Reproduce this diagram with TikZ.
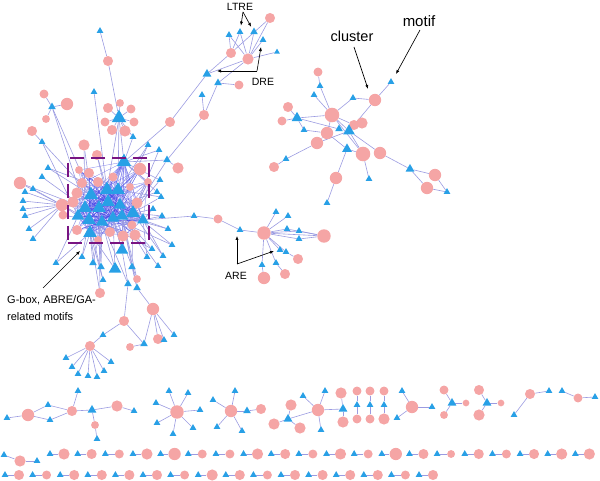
\documentclass[tikz,border=0pt]{standalone}
\usepackage{fontspec}
\setmainfont{Liberation Sans}
\usetikzlibrary{shapes.geometric,arrows.meta,backgrounds}
\definecolor{pinkc}{RGB}{245,165,165}
\definecolor{bluec}{RGB}{40,160,230}
\definecolor{edgec}{RGB}{155,155,225}
\definecolor{densec}{RGB}{70,70,230}
\definecolor{boxc}{RGB}{120,20,130}
\tikzset{
 pk/.style={circle, fill=pinkc, inner sep=0pt, minimum size={1.12*#1pt}},
 pk/.default=9,
 tri/.style={regular polygon, regular polygon sides=3, fill=bluec, inner sep=0pt, minimum size={1.12*#1pt}},
 tri/.default=7,
 ed/.style={draw=edgec, line width=0.6pt},
 ed2/.style={draw=densec, line width=0.35pt, draw opacity=0.65},
 ann/.style={draw=black, line width=0.65pt, -{Latex[length=4pt,width=3.2pt]}},
 lbl/.style={font=\fontsize{10.5}{12}\selectfont, inner sep=0pt}
}
\begin{document}
\begin{tikzpicture}[x=1pt,y=-1pt]
\useasboundingbox (0,0) rectangle (600,481);
% pink clusters
\foreach \nm/\xx/\yy/\sz in {
a1/270/18/9, a2/231/53/9, a3/248/59/10, a4/239/85/8, a5/204/115/9, a6/170/122/9,
b1/108/61/9, b2/44/94/8, b3/67/104/11, b4/46/119/7, b5/120/103/7, b6/108/108/9, b7/131/109/8, b8/105/122/8, b9/134/122/8, b10/112/130/9, b11/125/131/10, b12/32/131/9, b13/84/145/10, b14/97/155/9, b15/178/168/10,
d1/79/170/7, d2/89/173/9, d3/82/183/9, d4/98/182/9, d5/113/177/8, d6/140/169/11, d7/130/187/7, d8/77/193/10, d9/137/203/10, d10/73/202/10, d11/132/225/8, d12/135/235/10, d13/123/236/10, d14/110/232/9, d15/77/230/9, d16/98/240/7, d17/148/182/7,
L0/62/205/11, l1/20/183/11, l2/63/215/8,
f1/137/279/7, f2/100/293/9, f3/153/309/11, f4/124/321/9, f5/90/346/9, f6/130/347/7, f7/158/339/9,
h1/218/219/8, H/264/233/12, h2/324/236/12, h3/298/259/9, h4/285/274/9, h5/264/278/11,
q1/318/72/8, q4/288/107/9, q5/282/121/8, q7/332/115/13, q9/375/100/11, q12/327/133/11, q15/354/125/9, q16/362/123/10, q17/317/143/11, q19/363/154/13, q20/380/153/11, q22/274/167/9, q23/336/178/11, q27/435/175/11, q28/427/188/11,
ub1/28/415/11, ub2/72/411/9, ub3/117/406/10, ub4/95/425/7, vb/177/412/12, wb/231/411/11, wp/261/409/9, xp1/291/405/10, xp2/274/424/10, xp3/300/428/10, xh/318/410/11, xp4/341/393/10, xp5/343/422/10, yp1/357/391/8, yq1/357/419/8, yp2/370/391/8, yq2/370/419/8, yp3/384/391/8, yq3/384/419/10, zh/412/407/11, gp1/444/390/8, gp2/444/415/7, gp3/466/403/6, hp1/479/390/9, hp2/479/415/10, hp3/501/403/6, ip/530/394/9, jp/578/398/8, kp/20/461/10}
  \node[pk=\sz] (\nm) at (\xx,\yy) {};
% motifs
\foreach \nm/\xx/\yy/\sz in {
ta1/229/35/7, ta2/240/32/7, ta3/254/32/8, ta4/263/40/7, ta5/277/52/6, ta6/207/74/9, ta7/218/83/8, ta8/202/95/7,
tb1/100/31/7, TB/119/118/15, tb2/52/107/8, tb3/94/92/7, tb4/133/137/7, tb5/42/142/7, tb6/148/145/7, tb7/159/150/7, tb8/167/160/8,
c1/124/162/15, c2/91/195/15, c3/107/190/15, c4/118/190/14, c5/108/202/14, c6/99/208/14, c7/85/208/14, c8/120/205/13, c9/133/213/14, c10/89/220/14, c11/102/222/13, c12/113/218/13, c13/122/216/13, c14/78/216/13, c15/143/220/12, c16/90/233/14,
tl1/25/192/7, tl2/33/189/7, tl3/23/201/7, tl4/23/209/7, tl5/25/216/7, tl6/48/168/7, tl7/42/177/7, tl8/29/229/7, tl9/33/239/7,
tr1/160/180/7, tr2/161/197/7, tr3/153/209/7, tr4/162/216/7, tr5/168/229/7, tr6/172/245/7, tr7/152/249/7, tr8/157/192/7,
te1/56/263/7, te2/82/257/7, te3/93/263/8, te4/101/267/8, TE5/115/269/13, TE6/122/250/13, te7/132/267/8, te9/147/257/7, te10/163/256/7, te12/158/266/7, te13/103/280/7, te14/128/284/8, te15/137/288/8,
tg1/144/344/8, tg2/164/340/7, tg3/174/335/7, tg4/103/335/7,
tf1/66/358/7, tf2/72/367/7, tf3/78/374/7, tf4/88/376/7, tf5/97/377/7, tf6/104/371/7, tf7/111/362/7,
th1/194/216/7, th2/240/230/7, th3/276/212/7, th4/288/216/7, th5/287/229/7, th6/299/231/7, th7/299/239/7, th8/280/250/7, th9/286/252/7, th10/276/263/7, th11/262/265/7,
q2/320/86/7, q3/314/95/7, Q6/297/118/11, q8/353/98/7, q10/391/82/7, q11/304/130/7, q13/339/129/8, Q14/349/131/12, Q18/347/149/10, q21/286/159/7, q24/327/203/7, q25/369/179/7, q26/410/169/9, q29/447/192/7,
ua1/7/418/7, ua2/48/405/7, ua3/50/420/7, ua4/78/391/7, UA5/92/410/9, ua6/134/411/7, ua7/97/439/7,
tv1/156/403/7, tv2/169/391/7, tv3/188/393/7, tv4/200/410/7, tv5/193/428/7, tv6/173/434/7, tv7/157/423/7,
tw1/213/400/7, tw2/235/391/7, tw3/247/411/8, tw4/242/431/7, tw5/217/427/7,
XT/288/419/9, tx1/303/396/7, tx2/325/391/7, tx3/343/409/9, tx4/321/430/7,
ty1/357/405/7, ty2/370/405/7, ty3/384/405/7,
tz1/402/391/7, tz2/432/407/7, tz3/397/418/7,
tgg/452/403/9, thh/487/403/9, ti1/514/415/7, ti2/549/391/7, tj1/562/391/7, tj2/595/397/7, tk1/4/455/7, tk2/37/461/7}
  \node[tri=\sz] (\nm) at (\xx,\yy) {};
% rows of pairs
\foreach \i/\sz in {0/10,1/9,2/8,3/10,4/11,5/8,6/8,7/10,8/9,9/8,10/10,11/8,12/11,13/9,14/7,15/9,16/8,17/9,18/10,19/10}
 {\node[tri] (rt\i) at ({50+27.65*\i},454) {};
  \node[pk=\sz] (rp\i) at ({64+27.65*\i},454) {};}
\foreach \i/\sz in {0/9,1/8,2/9,3/9,4/9,5/9,6/8,7/10,8/9,9/8,10/9,11/9,12/9,13/9,14/8,15/9}
 {\node[tri] (st\i) at ({5+27.6*\i},475) {};
  \node[pk=\sz] (sp\i) at ({19+27.6*\i},475) {};}
% edges
\begin{scope}[on background layer]
\foreach \i in {1,...,16}{\foreach \j in {1,...,16}{\ifnum\i<\j \draw[ed2] (c\i) -- (c\j);\fi}}
\foreach \i in {1,...,16}{\foreach \j in {1,...,17}{\ifodd\numexpr\i+\j\relax\else \draw[ed2] (c\i) -- (d\j);\fi}}
\foreach \a/\b in {
a1/a3, a1/a2, a2/ta1, a2/ta2, a2/ta6, a3/ta2, a3/ta3, a3/ta4, a3/ta5, a3/ta1, a3/ta6, ta7/a4, ta7/a3, ta7/a5, ta8/a5, a5/tb8, ta6/a6, a6/c1,
tb1/b1, b1/TB, TB/b5, TB/b6, TB/b7, TB/b8, TB/b9, TB/b10, TB/b11, TB/tb4, TB/c1, TB/c3, TB/c4, tb3/c3, tb2/b2, tb2/b3, tb2/b4, tb2/c2, tb2/c7, b12/tb5, tb5/c14, tb5/c2, b13/c2, b13/c7, b14/c3, b14/c5, tb6/c4, tb6/c8, tb7/c9, tb7/c1, b15/tb8, tb8/c9, tb8/c1, tb4/c1,
L0/tl1, L0/tl2, L0/tl3, L0/tl4, L0/tl5, L0/tl8, L0/tl9, l1/L0, l1/c7, tl6/c2, tl6/c3, tl7/c7, L0/c2, L0/c7, L0/c14, L0/c10, L0/c6, l2/c10, l2/L0,
tr1/c1, tr1/c9, tr2/c9, tr2/c4, tr3/c15, tr3/c13, tr4/c15, tr4/c9, tr5/c13, tr5/c15, tr6/c9, tr6/c12, tr7/c13, tr7/c11, tr8/c8, tr8/c1, d17/c9, d17/c1,
c15/th1, th1/h1, h1/th2, th2/H, H/th3, H/th4, H/th5, H/th6, H/th7, H/th8, H/th9, H/th10, H/th11, H/h2, th5/h2, th6/h2, th7/h2, th9/h3, th10/h4, th11/h5,
te1/c14, te1/c16, te2/c16, te2/c10, te3/c16, te3/c11, te4/c11, te4/c6, TE5/c11, TE5/c12, TE5/c16, TE6/c13, TE6/c12, TE6/c5, te7/c13, te7/c9, te9/c15, te9/c13, te10/c15, te10/c9, te12/c13, te13/c16, te13/c10, te14/TE6, te14/c11, te15/te7, te15/c13, f1/c13, f1/c12, f2/c16, f2/c6,
te14/f4, te15/f3, f3/tg1, f3/tg2, f3/tg3, f3/f7, f4/tg4, tg4/f5, f4/tg1, tg1/f6, f5/tf1, f5/tf2, f5/tf3, f5/tf4, f5/tf5, f5/tf6, f5/tf7,
q1/q2, q2/q7, q3/q7, q7/q8, q8/q9, q9/q10, q9/Q14, q7/Q6, q4/Q6, q5/Q6, Q6/q13, q7/q12, q7/Q14, q7/q19, q7/q15, q11/q12, q11/Q6, q12/q17, q17/Q14, Q14/q19, Q14/q20, Q14/q16, Q18/q12, Q18/q23, q23/q24, Q18/q19, q19/q25, q20/q26, q26/q27, q26/q28, q28/q29, q27/q29, q21/q17, q21/q22,
ua1/ub1, ub1/ua2, ub1/ua3, ua2/ub2, ua3/ub2, ub2/ua4, ub2/UA5, UA5/ub3, ub3/ua6, UA5/ub4, ub4/ua7,
vb/tv1, vb/tv2, vb/tv3, vb/tv4, vb/tv5, vb/tv6, vb/tv7,
wb/tw1, wb/tw2, wb/tw3, wb/tw4, wb/tw5, tw3/wp,
XT/xp1, XT/xp2, XT/xp3, XT/xh, xh/tx1, xh/tx2, xh/tx3, xh/tx4, tx3/xp4, tx3/xp5,
yp1/ty1, ty1/yq1, yp2/ty2, ty2/yq2, yp3/ty3, ty3/yq3,
zh/tz1, zh/tz2, zh/tz3, tgg/gp1, tgg/gp2, tgg/gp3, thh/hp1, thh/hp2, thh/hp3, ti1/ip, ip/ti2, tj1/jp, jp/tj2, tk1/kp, kp/tk2}
  \draw[ed] (\a) -- (\b);
\foreach \i in {0,...,19} \draw[ed] (rt\i) -- (rp\i);
\foreach \i in {0,...,15} \draw[ed] (st\i) -- (sp\i);
\end{scope}
% dashed box
\node[draw=boxc, line width=2.8pt, dash pattern=on 14pt off 7pt, minimum width=81pt, minimum height=85pt, inner sep=0pt] (gbx) at (108.5,200.5) {};
% labels
\node[lbl] (ltre) at (240,7) {LTRE};
\node[lbl] (dre) at (263,82) {DRE};
\node[lbl] (are) at (236,276) {ARE};
\node[font=\fontsize{14.5}{16}\selectfont, inner sep=0pt] (clu) at (352,36) {cluster};
\node[font=\fontsize{15}{17}\selectfont, inner sep=0pt] (mot) at (419,21) {motif};
\node[font=\fontsize{11}{17}\selectfont, align=left, anchor=west, inner sep=0pt] (gtx) at (7,308.5) {G-box, ABRE/GA-\\related motifs};
\coordinate (lj) at (243,12);
\coordinate (dj) at (257,71);
\coordinate (dt1) at (217,71);
\coordinate (dt2) at (261,47);
\coordinate (aj) at (237,264);
\coordinate (at1) at (237,236);
\coordinate (at2) at (274,251);
\coordinate (cs) at (354,47);
\coordinate (ce) at (368,89);
\coordinate (ms) at (420,30);
\coordinate (me) at (396,74);
\coordinate (gs) at (43,288);
\coordinate (ge) at (80,251);
\draw[ann, shorten >=3pt] (lj) -- (ta2);
\draw[ann, shorten >=3pt] (lj) -- (ta3);
\draw[ann] (dj) -- (dt1);
\draw[ann] (dj) -- (dt2);
\draw[ann] (aj) -- (at1);
\draw[ann] (aj) -- (at2);
\draw[ann] (cs) -- (ce);
\draw[ann] (ms) -- (me);
\draw[ann] (gs) -- (ge);
\end{tikzpicture}
\end{document}
